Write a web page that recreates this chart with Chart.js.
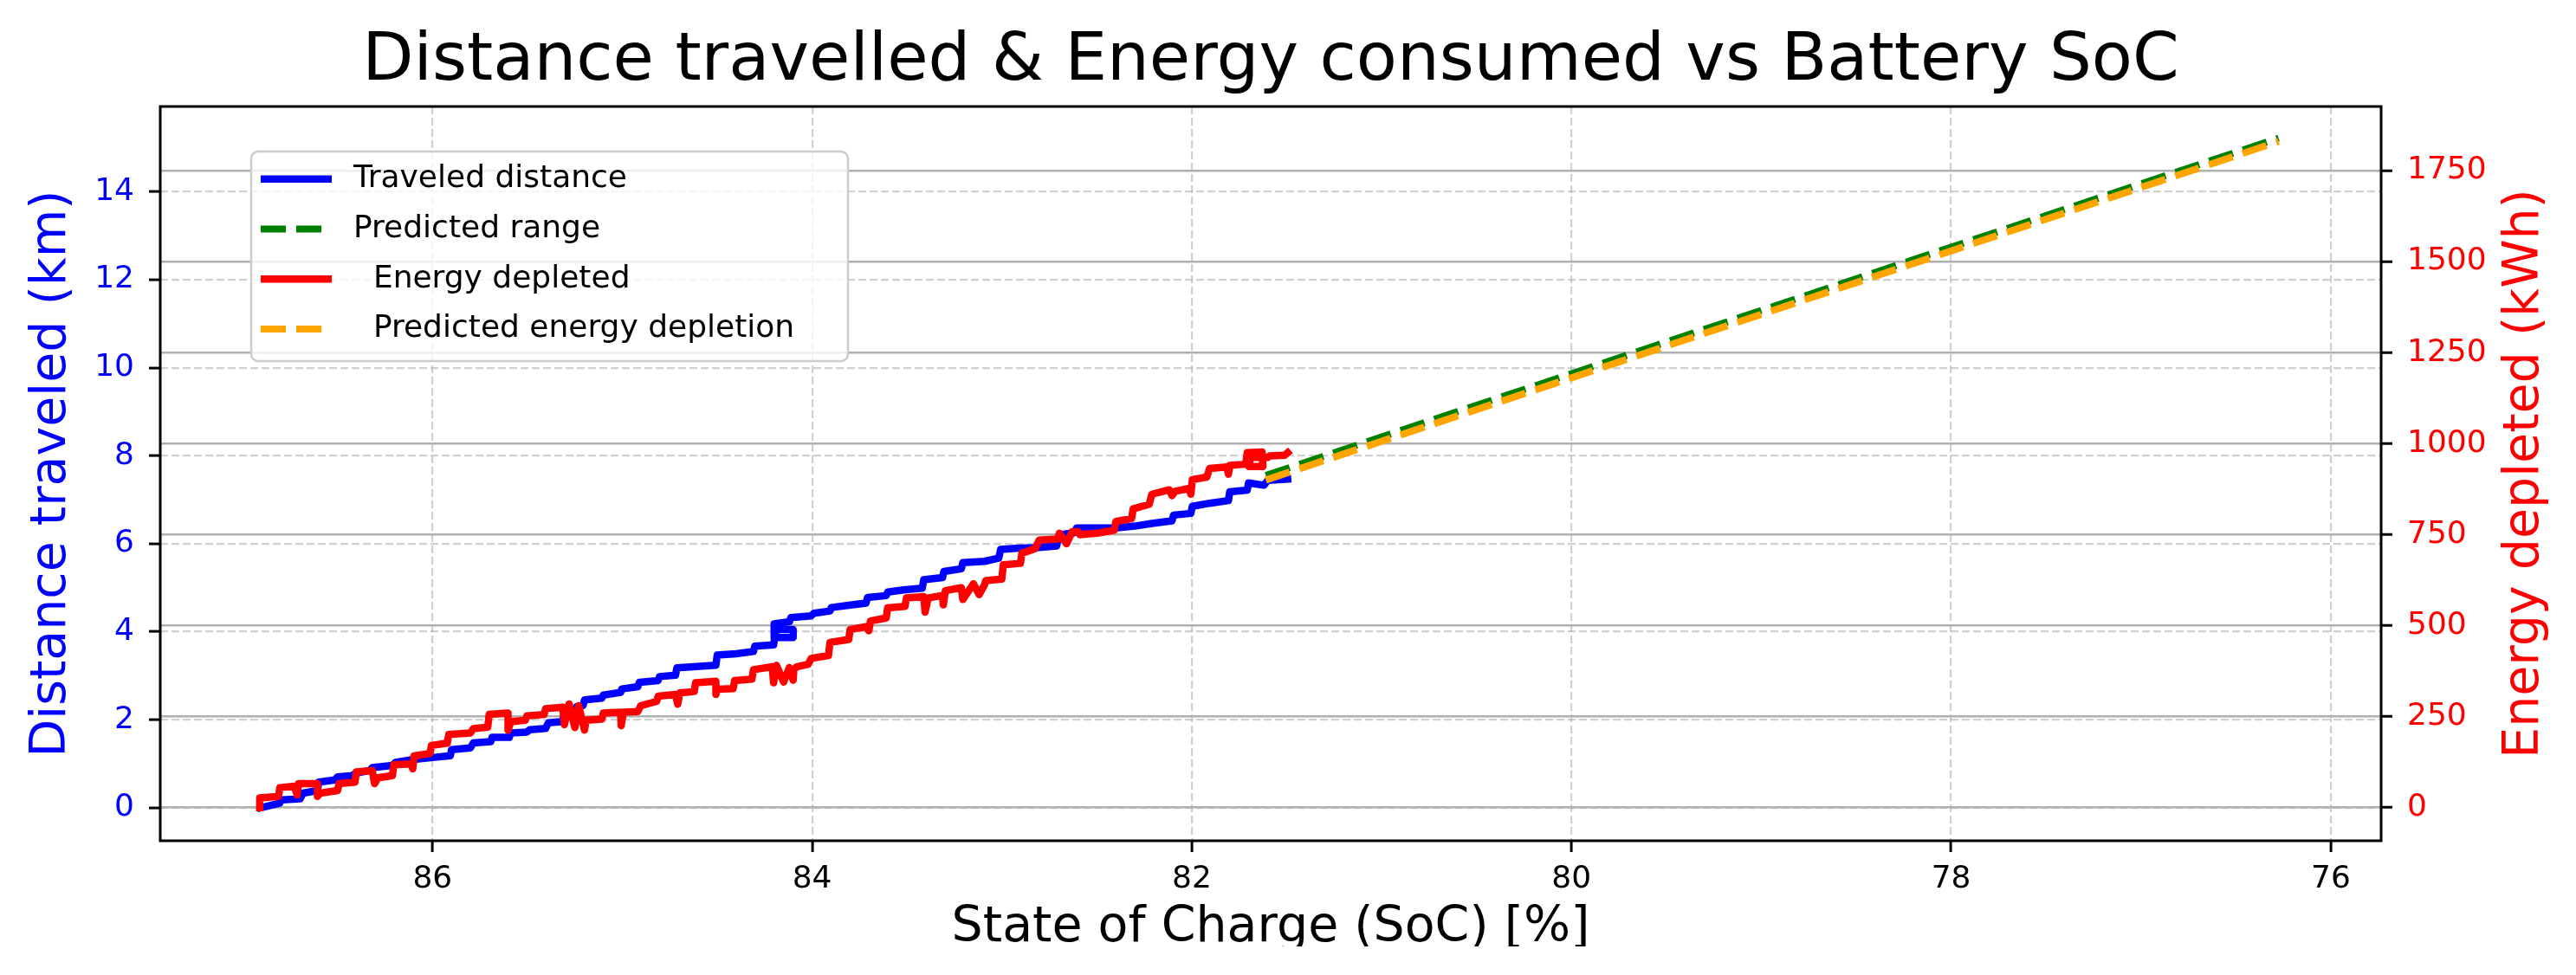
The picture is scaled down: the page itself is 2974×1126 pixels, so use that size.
<!DOCTYPE html>
<html>
<head>
<meta charset="utf-8">
<script src="https://cdn.jsdelivr.net/npm/chart.js@4.4.1/dist/chart.umd.min.js"></script>
<style>
  html, body { margin: 0; padding: 0; background: #ffffff; overflow: hidden; }
  #wrap { position: absolute; left: 0; top: 0; width: 2974px; height: 1093px; overflow: hidden; background: #ffffff; }
  #c { display: block; }
</style>
</head>
<body>
<div id="wrap"><canvas id="c" width="2974" height="1126"></canvas></div>
<script>
// ---------------- data ----------------
const socTicks = [86, 84, 82, 80, 78, 76];
const kmTicks = [0, 2, 4, 6, 8, 10, 12, 14];
const kwhTicks = [0, 250, 500, 750, 1000, 1250, 1500, 1750];

const socLimits = [75.735, 87.434];
const kmLimits = [-0.752, 15.937];
const kwhLimits = [-91, 1926];

const socDistance = [
  86.905, 86.805, 86.796, 86.697, 86.682, 86.606, 86.599, 86.515, 86.500, 86.424,
  86.405, 86.330, 86.317, 86.211, 86.195, 86.097, 86.000, 85.906, 85.899, 85.800,
  85.785, 85.693, 85.686, 85.595, 85.587, 85.503, 85.488, 85.404, 85.389, 85.313,
  85.305, 85.262, 85.240, 85.207, 85.199, 85.108, 85.100, 85.009, 85.002, 84.918,
  84.910, 84.811, 84.804, 84.720, 84.712, 84.507, 84.500, 84.401, 84.309, 84.302,
  84.203, 84.195, 84.190, 84.100, 84.100, 84.200, 84.200, 84.119, 84.112, 84.005,
  83.990, 83.906, 83.899, 83.807, 83.716, 83.708, 83.610, 83.602, 83.519, 83.420,
  83.412, 83.313, 83.306, 83.214, 83.206, 83.092, 83.017, 83.007, 82.910, 82.819,
  82.712, 82.700, 82.620, 82.606, 82.393, 82.300, 82.210, 82.104, 82.096, 82.005,
  81.997, 81.906, 81.807, 81.800, 81.708, 81.701, 81.620, 81.600, 81.495
];
const distanceKm = [
  0.00, 0.10, 0.18, 0.20, 0.33, 0.39, 0.58, 0.63, 0.70, 0.73,
  0.78, 0.85, 0.91, 0.96, 1.03, 1.10, 1.14, 1.18, 1.32, 1.36,
  1.47, 1.50, 1.60, 1.60, 1.70, 1.72, 1.77, 1.80, 1.93, 1.96,
  2.24, 2.12, 2.30, 2.32, 2.45, 2.49, 2.56, 2.62, 2.70, 2.75,
  2.85, 2.89, 2.98, 3.01, 3.18, 3.24, 3.47, 3.50, 3.55, 3.67,
  3.70, 3.93, 4.05, 4.05, 3.87, 3.87, 4.18, 4.23, 4.32, 4.36,
  4.42, 4.47, 4.55, 4.60, 4.65, 4.78, 4.82, 4.90, 4.95, 4.99,
  5.18, 5.23, 5.37, 5.43, 5.57, 5.60, 5.67, 5.87, 5.90, 5.91,
  5.95, 6.20, 6.25, 6.36, 6.36, 6.40, 6.46, 6.52, 6.65, 6.69,
  6.85, 6.92, 6.98, 7.18, 7.22, 7.38, 7.33, 7.44, 7.47
];

const socEnergy = [
  86.910, 86.910, 86.811, 86.804, 86.728, 86.713, 86.705, 86.606, 86.606, 86.591,
  86.500, 86.492, 86.408, 86.401, 86.317, 86.305, 86.287, 86.211, 86.203, 86.110,
  86.104, 86.097, 86.013, 86.005, 85.922, 85.914, 85.800, 85.785, 85.709, 85.701,
  85.602, 85.602, 85.587, 85.511, 85.503, 85.412, 85.404, 85.313, 85.305, 85.280,
  85.250, 85.230, 85.199, 85.191, 85.108, 85.100, 85.009, 85.006, 84.994, 84.918,
  84.903, 84.819, 84.811, 84.720, 84.708, 84.697, 84.621, 84.614, 84.507, 84.507,
  84.500, 84.416, 84.408, 84.317, 84.309, 84.210, 84.203, 84.188, 84.150, 84.120,
  84.100, 84.096, 84.081, 84.021, 84.005, 83.914, 83.906, 83.807, 83.800, 83.716,
  83.701, 83.693, 83.610, 83.602, 83.511, 83.503, 83.412, 83.405, 83.389, 83.313,
  83.309, 83.298, 83.214, 83.206, 83.150, 83.120, 83.092, 83.085, 83.001, 82.993,
  82.903, 82.895, 82.826, 82.804, 82.705, 82.697, 82.660, 82.630, 82.598, 82.590,
  82.499, 82.408, 82.400, 82.317, 82.309, 82.225, 82.210, 82.119, 82.104, 82.088,
  82.013, 82.005, 81.997, 81.921, 81.906, 81.815, 81.807, 81.800, 81.716, 81.708,
  81.630, 81.625, 81.700, 81.690, 81.600, 81.590, 81.511, 81.495
];
const energyKWh = [
  0, 27, 31, 55, 59, 35, 66, 66, 31, 40,
  47, 66, 70, 98, 102, 66, 82, 88, 118, 120,
  107, 142, 149, 171, 177, 201, 205, 217, 221, 256,
  260, 213, 236, 240, 252, 256, 272, 276, 228, 285,
  220, 280, 213, 240, 243, 260, 262, 225, 262, 264,
  280, 292, 306, 311, 284, 315, 319, 343, 347, 311,
  325, 327, 349, 353, 379, 387, 343, 391, 345, 385,
  350, 379, 387, 394, 410, 418, 454, 462, 489, 497,
  486, 513, 521, 549, 553, 576, 580, 537, 576, 583,
  557, 596, 604, 572, 615, 585, 612, 624, 628, 667,
  671, 699, 711, 735, 738, 754, 725, 758, 758, 750,
  754, 762, 786, 794, 821, 833, 861, 873, 857, 869,
  877, 861, 901, 908, 932, 936, 916, 940, 944, 975,
  977, 937, 937, 962, 962, 966, 968, 975
];

const socPrediction = [81.61, 76.275];
const predictedRangeKm = [7.55, 15.22];
const predictedEnergyKWh = [900, 1830];

const seriesLabels = ['Traveled distance', 'Predicted range', '  Energy depleted', '  Predicted energy depletion'];
const titleText = 'Distance travelled & Energy consumed vs Battery SoC';
const xTitle = 'State of Charge (SoC) [%]';
const yLeftTitle = 'Distance traveled (km)';
const yRightTitle = 'Energy depleted (kWh)';

// ---------------- helpers / plugins ----------------
const pts = (xs, ys) => xs.map((x, i) => ({ x: x, y: ys[i] }));
const plain = v => String(v);
const FONT = "'DejaVu Sans', 'Liberation Sans', sans-serif";
Chart.defaults.font.family = FONT;
Chart.defaults.color = '#000000';

const framePlugin = {
  id: 'frame',
  afterDraw(chart) {
    const { ctx, chartArea: a } = chart;
    ctx.save();
    ctx.strokeStyle = '#000000';
    ctx.lineWidth = 3;
    ctx.setLineDash([]);
    ctx.strokeRect(a.left, a.top, a.right - a.left, a.bottom - a.top);
    ctx.restore();
  }
};

const rightTitlePlugin = {
  id: 'rightTitle',
  afterDraw(chart, args, o) {
    const { ctx, chartArea: a } = chart;
    ctx.save();
    ctx.translate(chart.width - o.fromRight, (a.top + a.bottom) / 2);
    ctx.rotate(-Math.PI / 2);
    ctx.font = o.size + 'px ' + FONT;
    ctx.fillStyle = o.color;
    ctx.textAlign = 'center';
    ctx.textBaseline = 'alphabetic';
    ctx.fillText(o.text, 0, 0);
    ctx.restore();
  }
};

const boxLegendPlugin = {
  id: 'boxLegend',
  afterDraw(chart, args, o) {
    const { ctx, chartArea: a } = chart;
    const x = a.left + o.dx, y = a.top + o.dy;
    ctx.save();
    ctx.beginPath();
    ctx.roundRect(x, y, o.w, o.h, o.r);
    ctx.fillStyle = 'rgba(255,255,255,0.8)';
    ctx.fill();
    ctx.strokeStyle = '#cccccc';
    ctx.lineWidth = 2.5;
    ctx.stroke();
    ctx.font = o.size + 'px ' + FONT;
    ctx.textBaseline = 'middle';
    ctx.textAlign = 'left';
    chart.data.datasets.forEach((ds, i) => {
      const cy = y + o.first + i * o.gap;
      ctx.beginPath();
      ctx.setLineDash(ds.borderDash || []);
      ctx.lineCap = 'butt';
      ctx.lineWidth = ds.borderWidth;
      ctx.strokeStyle = ds.borderColor;
      ctx.moveTo(x + o.hx0, cy);
      ctx.lineTo(x + o.hx1, cy);
      ctx.stroke();
      ctx.setLineDash([]);
      ctx.fillStyle = '#000000';
      ctx.fillText(ds.label, x + o.tx, cy);
    });
    ctx.restore();
  }
};

const tickFont = { size: 36, family: FONT };

new Chart(document.getElementById('c'), {
  type: 'line',
  data: {
    datasets: [
      { label: seriesLabels[0], data: pts(socDistance, distanceKm), yAxisID: 'y',
        borderColor: '#0000ff', borderWidth: 8.5, order: 4, borderJoinStyle: 'round', borderCapStyle: 'square' },
      { label: seriesLabels[1], data: pts(socPrediction, predictedRangeKm), yAxisID: 'y',
        borderColor: '#008000', borderWidth: 8, borderDash: [29, 12], order: 3, borderCapStyle: 'butt' },
      { label: seriesLabels[2], data: pts(socEnergy, energyKWh), yAxisID: 'y1',
        borderColor: '#ff0000', borderWidth: 8.5, order: 2, borderJoinStyle: 'round', borderCapStyle: 'square' },
      { label: seriesLabels[3], data: pts(socPrediction, predictedEnergyKWh), yAxisID: 'y1',
        borderColor: '#ffa500', borderWidth: 8, borderDash: [29, 12], order: 1, borderCapStyle: 'butt' }
    ]
  },
  options: {
    responsive: false,
    animation: false,
    devicePixelRatio: 1,
    layout: { padding: 0 },
    elements: { point: { radius: 0, hoverRadius: 0 }, line: { tension: 0, fill: false } },
    plugins: {
      legend: { display: false },
      tooltip: { enabled: false },
      title: {
        display: true, text: titleText, fullSize: false, color: '#000000',
        font: { size: 77, weight: 'normal', family: FONT },
        padding: { top: 25.5, bottom: 5.1 }
      },
      rightTitle: { text: yRightTitle, size: 57, color: '#ff0000', fromRight: 44 },
      boxLegend: { dx: 105, dy: 52, w: 689, h: 242, r: 8, size: 36, first: 31.7, gap: 57.8,
                   hx0: 11, hx1: 93, tx: 118 }
    },
    scales: {
      x: {
        type: 'linear', position: 'bottom', reverse: true,
        min: socLimits[0], max: socLimits[1],
        afterBuildTicks: s => { s.ticks = socTicks.map(v => ({ value: v })); },
        afterFit: s => { s.height = 155; },
        ticks: { font: tickFont, color: '#000000', padding: 10, maxRotation: 0, autoSkip: false, callback: plain },
        grid: { color: 'rgba(176,176,176,0.6)', lineWidth: 2.2, tickLength: 13, tickWidth: 3, tickColor: '#000000', tickBorderDash: [] },
        border: { display: false, dash: [9, 4] },
        title: { display: true, text: xTitle, color: '#000000', font: { size: 57, family: FONT }, padding: { top: 0, bottom: 19.5 } }
      },
      y: {
        type: 'linear', position: 'left',
        min: kmLimits[0], max: kmLimits[1],
        afterBuildTicks: s => { s.ticks = kmTicks.map(v => ({ value: v })); },
        afterFit: s => { s.width = 185; },
        ticks: { font: tickFont, color: '#0000ff', padding: 17, callback: plain },
        grid: { color: 'rgba(176,176,176,0.6)', lineWidth: 2.2, tickLength: 13, tickWidth: 3, tickColor: '#000000', tickBorderDash: [] },
        border: { display: false, dash: [9, 4] },
        title: { display: true, text: yLeftTitle, color: '#0000ff', font: { size: 57, family: FONT }, padding: { top: 26, bottom: 0 } }
      },
      y1: {
        type: 'linear', position: 'right',
        min: kwhLimits[0], max: kwhLimits[1],
        afterBuildTicks: s => { s.ticks = kwhTicks.map(v => ({ value: v })); },
        afterFit: s => { s.width = 225; },
        ticks: { font: tickFont, color: '#ff0000', padding: 17, callback: plain },
        grid: { color: '#b0b0b0', lineWidth: 2.5, tickLength: 13, tickWidth: 3, tickColor: '#000000', tickBorderDash: [] },
        border: { display: false },
        title: { display: false }
      }
    }
  },
  plugins: [framePlugin, rightTitlePlugin, boxLegendPlugin]
});
</script>
</body>
</html>
